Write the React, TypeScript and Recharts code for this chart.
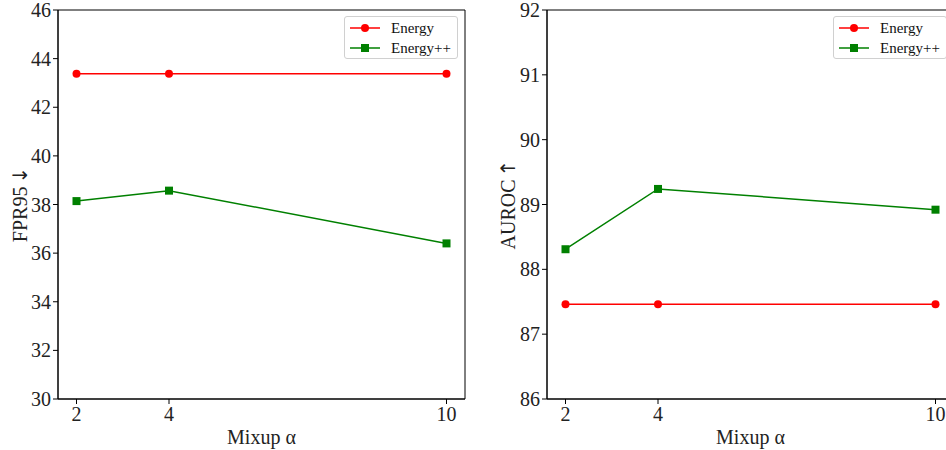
import {
  LineChart,
  Line,
  XAxis,
  YAxis,
  ReferenceArea,
} from "recharts";

const alphas = [2, 4, 10];
const fprEnergy = [43.38, 43.38, 43.38];
const fprEnergyPP = [38.14, 38.57, 36.4];
const aurocEnergy = [87.46, 87.46, 87.46];
const aurocEnergyPP = [88.31, 89.24, 88.92];

const fprTicks = [30, 32, 34, 36, 38, 40, 42, 44, 46];
const aurocTicks = [86, 87, 88, 89, 90, 91, 92];
const xTicks = [2, 4, 10];

const FONT = "'Liberation Serif', 'DejaVu Serif', serif";
const RED = "#ff0000";
const GREEN = "#008000";

const fprData = alphas.map((a, i) => ({
  alpha: a,
  energy: fprEnergy[i],
  energyPP: fprEnergyPP[i],
}));

const aurocData = alphas.map((a, i) => ({
  alpha: a,
  energy: aurocEnergy[i],
  energyPP: aurocEnergyPP[i],
}));

const SquareDot = (props: any) => {
  const { cx, cy, index } = props;
  return (
    <rect
      key={`sq-${index}`}
      x={cx - 4}
      y={cy - 4}
      width={8}
      height={8}
      fill={GREEN}
    />
  );
};

// rotated y label, arrow in a font with a larger arrow glyph
const YLabel = (props: any) => {
  const { viewBox, text, arrow, offset } = props;
  const cx = viewBox.x + offset;
  const cy = viewBox.y + viewBox.height / 2;
  return (
    <text
      x={cx}
      y={cy}
      transform={`rotate(-90 ${cx} ${cy})`}
      textAnchor="middle"
      dominantBaseline="central"
      fill="#222"
      fontSize={20}
      fontFamily={FONT}
    >
      {text}
      <tspan fontFamily="'DejaVu Sans'" fontSize={20} dx={3}>
        {arrow}
      </tspan>
    </text>
  );
};

// legend drawn as an overlay so it does not push the plot down
const LegendBox = ({ left }: { left: number }) => (
  <div
    style={{
      position: "absolute",
      left: left,
      top: 16,
      width: 114,
      height: 43,
      border: "1px solid #d0d0d0",
      borderRadius: 3,
      background: "rgba(255,255,255,0.8)",
      fontFamily: FONT,
      fontSize: 15,
      color: "#111",
      boxSizing: "border-box",
    }}
  >
    {[
      { name: "Energy", color: RED, square: false },
      { name: "Energy++", color: GREEN, square: true },
    ].map((item, i) => (
      <div
        key={item.name}
        style={{
          position: "absolute",
          left: 4,
          top: 2 + i * 20,
          height: 18,
          display: "flex",
          alignItems: "center",
          whiteSpace: "nowrap",
        }}
      >
        <svg width={32} height={10} style={{ marginRight: 10 }}>
          <line x1={1} y1={5} x2={31} y2={5} stroke={item.color} strokeWidth={1.5} />
          {item.square ? (
            <rect x={12} y={1} width={8} height={8} fill={item.color} />
          ) : (
            <circle cx={16} cy={5} r={4} fill={item.color} />
          )}
        </svg>
        <span>{item.name}</span>
      </div>
    ))}
  </div>
);

type PanelProps = {
  data: any[];
  ticks: number[];
  yDomain: [number, number];
  yLabel: string;
  arrow: string;
  yAxisWidth: number;
  labelOffset: number;
  right: number;
};

const Panel = ({
  data,
  ticks,
  yDomain,
  yLabel,
  arrow,
  yAxisWidth,
  labelOffset,
  right,
}: PanelProps) => (
  <LineChart
    width={480}
    height={450}
    data={data}
    margin={{ top: 10, right: right, bottom: 0, left: 0 }}
    style={{ fontFamily: FONT }}
  >
    <XAxis
      dataKey="alpha"
      type="number"
      domain={[1.6, 10.4]}
      ticks={xTicks}
      height={51}
      tickSize={5}
      tickMargin={3}
      stroke="#000"
      tick={{ fill: "#222", fontSize: 20, fontFamily: FONT }}
      label={{
        value: "Mixup α",
        position: "insideBottom",
        offset: 6,
        fill: "#222",
        fontSize: 20,
        fontFamily: FONT,
      }}
    />
    <YAxis
      type="number"
      domain={yDomain}
      ticks={ticks}
      width={yAxisWidth}
      tickSize={5}
      tickMargin={2}
      stroke="#000"
      interval={0}
      tick={{ fill: "#222", fontSize: 20, fontFamily: FONT }}
      label={(p: any) => (
        <YLabel {...p} text={yLabel} arrow={arrow} offset={labelOffset} />
      )}
    />
    <ReferenceArea
      x1={1.6}
      x2={10.4}
      y1={yDomain[0]}
      y2={yDomain[1]}
      fill="none"
      stroke="#000"
      strokeWidth={1}
    />
    <Line
      dataKey="energy"
      stroke={RED}
      strokeWidth={1.5}
      dot={{ r: 4, fill: RED, stroke: "none" }}
      isAnimationActive={false}
    />
    <Line
      dataKey="energyPP"
      stroke={GREEN}
      strokeWidth={1.5}
      dot={SquareDot}
      isAnimationActive={false}
    />
  </LineChart>
);

export default function App() {
  return (
    <div
      style={{
        position: "absolute",
        left: 0,
        top: 0,
        width: 946,
        height: 450,
        overflow: "hidden",
        background: "#fff",
      }}
    >
      <div style={{ position: "absolute", left: 0, top: 0 }}>
        <Panel
          data={fprData}
          ticks={fprTicks}
          yDomain={[30, 46]}
          yLabel="FPR95"
          arrow="↓"
          yAxisWidth={58}
          labelOffset={20}
          right={15}
        />
      </div>
      <div style={{ position: "absolute", left: 480, top: 0 }}>
        <Panel
          data={aurocData}
          ticks={aurocTicks}
          yDomain={[86, 92]}
          yLabel="AUROC"
          arrow="↑"
          yAxisWidth={67}
          labelOffset={28}
          right={6}
        />
      </div>
      <LegendBox left={344} />
      <LegendBox left={833} />
    </div>
  );
}
